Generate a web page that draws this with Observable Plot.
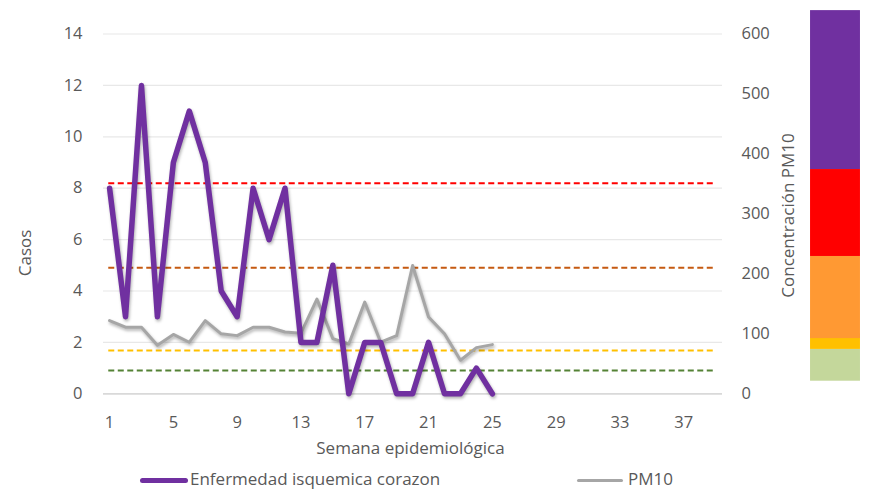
<!DOCTYPE html>
<html><head><meta charset="utf-8">
<script src="https://cdn.jsdelivr.net/npm/d3@7"></script>
<script src="https://cdn.jsdelivr.net/npm/@observablehq/plot@0.6"></script>
<style>
body{margin:0;background:#fff;font-family:"Open Sans",sans-serif;}
#wrap{position:relative;width:876px;height:498px;overflow:hidden;}
.sw{position:absolute;height:5px;border-radius:3px;}
.lt{position:absolute;font-size:17px;line-height:20px;color:#595959;white-space:nowrap;}
</style></head><body><div id="wrap"></div>
<script>
// ---- data ----
const weeks = [1,2,3,4,5,6,7,8,9,10,11,12,13,14,15,16,17,18,19,20,21,22,23,24,25];
const cases = [8,3,12,3,9,11,9,4,3,8,6,8,2,2,5,0,2,2,0,0,2,0,0,1,0];
const pm10  = [122,111,111,81,99,86,122,100,97,111,111,103,101,158,92,83,153,86,97,214,128,100,56,77,82];
const xTicks = [1,5,9,13,17,21,25,29,33,37];
const leftTicks = [0,2,4,6,8,10,12,14];
const rightTicks = [0,100,200,300,400,500,600];
const thresholdValues = [39,72,210,351];
const thresholdColors = ["#548235","#ffc000","#c55a11","#ff0000"];
const bandLow   = [21,74,92,229,374];
const bandHigh  = [74,100,229,374,639];
const bandColors= ["#c4d79b","#ffc000","#ff9933","#ff0000","#7030a0"];
const seriesNames = ["Enfermedad isquemica corazon","PM10"];

// ---- derived ----
const k = 600/14; // right axis units per left axis unit
const table = weeks.map((w,i)=>({w, cases:cases[i], pm:pm10[i]}));
const thresholds = thresholdValues.map((v,i)=>({v, c:thresholdColors[i]}));
const bands = bandLow.map((lo,i)=>({lo, hi:bandHigh[i], c:bandColors[i]}));
const dashX = [0.95, 38.95];
const barX = [44.95, 48.08];

const chart = Plot.plot({
  width: 876, height: 460,
  marginLeft: 103, marginRight: 154, marginTop: 33.5, marginBottom: 66.7,
  x: {domain:[0.62, 39.43]},
  y: {domain:[0,14]},
  color: {type:"identity"},
  style: {fontSize:"16.5px", color:"#595959", fontFamily:'"Open Sans", sans-serif', background:"#fff"},
  marks: [
    Plot.ruleY(leftTicks.slice(1), {stroke:"#e8e8e8", strokeWidth:1.2}),
    Plot.ruleY([0], {stroke:"#d9d9d9", strokeWidth:1.8}),
    Plot.axisX(xTicks, {tickSize:0, tickPadding:22, label:null}),
    Plot.axisY(leftTicks, {anchor:"left", tickSize:0, tickPadding:21, label:null}),
    Plot.axisY(rightTicks.map(v=>v/k), {anchor:"right", tickSize:0, tickPadding:19, label:null, tickFormat:d=>String(Math.round(d*k))}),
    Plot.ruleY(thresholds, {y:d=>d.v/k, x1:dashX[0], x2:dashX[1], stroke:d=>d.c, strokeWidth:2, strokeDasharray:"6,3.5"}),
    Plot.rect(bands, {x1:barX[0], x2:barX[1], y1:d=>d.lo/k, y2:d=>d.hi/k, fill:d=>d.c}),
    Plot.line(table, {x:"w", y:d=>d.pm/k, stroke:"#a6a6a6", strokeWidth:3, strokeLinejoin:"round"}),
    Plot.line(table, {x:"w", y:"cases", stroke:"#7030a0", strokeWidth:5.5, strokeLinejoin:"round"}),
    Plot.text(["Casos"], {text:d=>d, frameAnchor:"left", textAnchor:"middle", dx:-77.5, dy:39, rotate:-90, fill:"#595959", fontSize:17}),
    Plot.text(["Concentración PM10"], {text:d=>d, frameAnchor:"right", textAnchor:"middle", dx:66, dy:1.6, rotate:-90, fill:"#595959", fontSize:17}),
    Plot.text(["Semana epidemiológica"], {text:d=>d, frameAnchor:"bottom", textAnchor:"middle", dx:-2.5, dy:59.7, fill:"#595959", fontSize:17})
  ]
});
d3.select(chart).selectAll('g[aria-label="line"]').style("filter","drop-shadow(1.5px 2px 1.5px rgba(0,0,0,0.3))");
const wrap = document.getElementById("wrap");
wrap.appendChild(chart);

// legend (HTML)
const leg = [
  {name:seriesNames[0], color:"#7030a0", h:5, x0:140, x1:188, tx:190},
  {name:seriesNames[1], color:"#a6a6a6", h:3, x0:577, x1:623, tx:628}
];
leg.forEach(l=>{
  const s=document.createElement("div");
  s.className="sw"; s.style.left=l.x0+"px"; s.style.width=(l.x1-l.x0)+"px";
  s.style.height=l.h+"px"; s.style.top=(480-l.h/2)+"px"; s.style.background=l.color;
  wrap.appendChild(s);
  const t=document.createElement("div");
  t.className="lt"; t.style.left=l.tx+"px"; t.style.top="469px"; t.textContent=l.name;
  wrap.appendChild(t);
});
</script>
</body></html>
